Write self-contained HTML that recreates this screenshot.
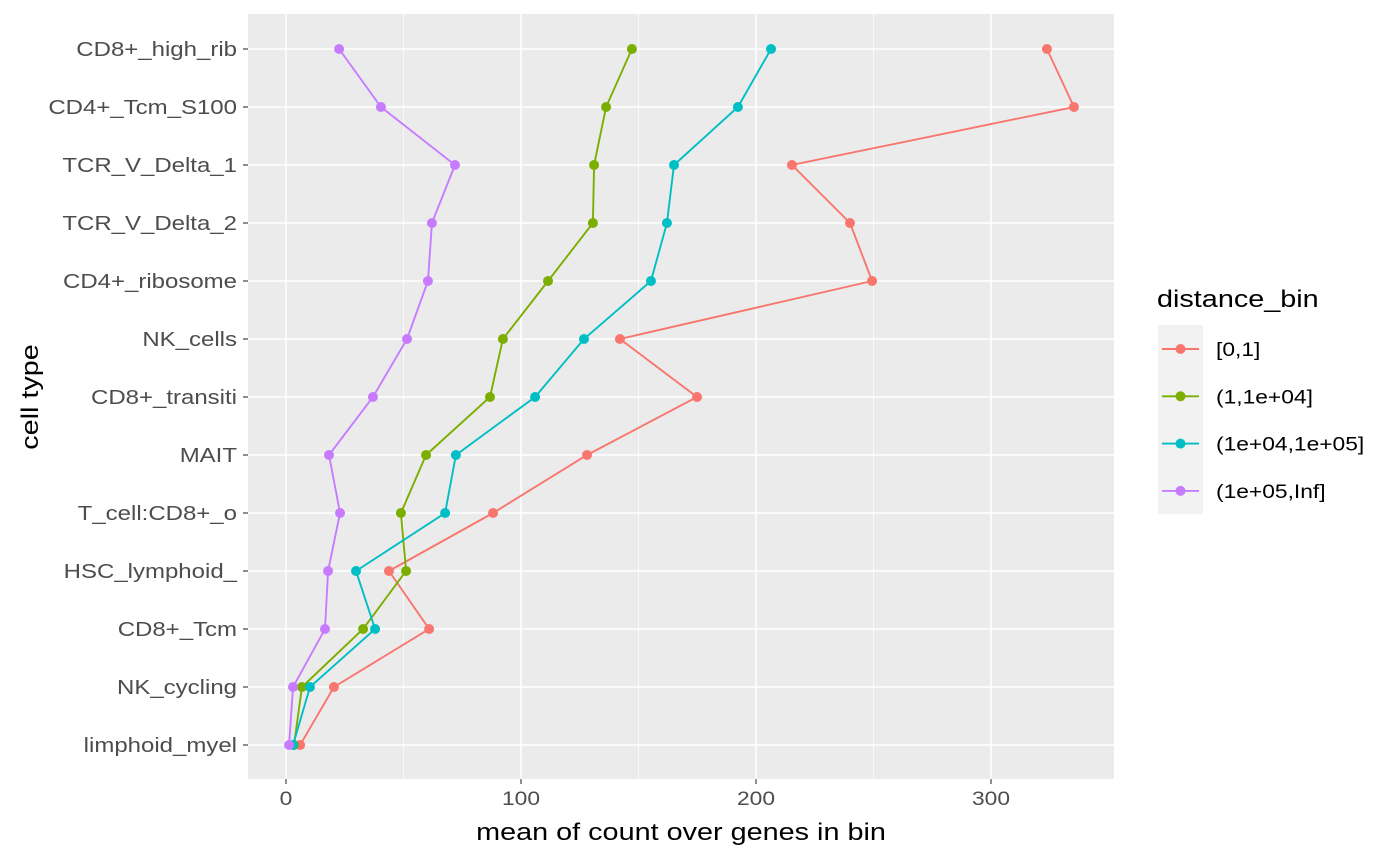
<!DOCTYPE html>
<html><head><meta charset="utf-8"><style>body{margin:0;background:#fff}svg{display:block;font-family:"Liberation Sans",sans-serif}</style></head>
<body>
<svg id="chart" width="1400" height="865"></svg>
<script>
const categories=["CD8+_high_rib","CD4+_Tcm_S100","TCR_V_Delta_1","TCR_V_Delta_2","CD4+_ribosome","NK_cells","CD8+_transiti","MAIT","T_cell:CD8+_o","HSC_lymphoid_","CD8+_Tcm","NK_cycling","limphoid_myel"];
const seriesNames=["[0,1]","(1,1e+04]","(1e+04,1e+05]","(1e+05,Inf]"];
const seriesColors=["#F8766D","#7CAE00","#00BFC4","#C77CFF"];
const redVals=[323.8,335.3,215.3,240,249.4,142.1,174.9,128.1,88.1,43.8,60.9,20.4,6];
const greenVals=[147.2,136.2,131.1,130.6,111.5,92.3,86.8,59.6,48.9,51.1,32.8,6.8,3.4];
const cyanVals=[206.4,192.3,165.1,162.1,155.3,126.8,106,72.3,67.7,29.8,37.9,10.2,3];
const purpleVals=[22.6,40.4,71.9,62.1,60.4,51.5,37,18.3,23,17.9,16.6,3,1.3];
const xTicks=[0,100,200,300];
const xMinor=[50,150,250];
const NS="http://www.w3.org/2000/svg";
const svg=document.getElementById("chart");
const P={l:248,r:1114,t:14,b:779};
const xs=v=>286+v*2.35;
const ys=i=>49+i*58;
function mk(t,a,p){const e=document.createElementNS(NS,t);for(const k in a)e.setAttribute(k,a[k]);(p||svg).appendChild(e);return e;}
function txt(x,y,s,size,anchor,fill,p,rot){const e=mk("text",{x:0,y:0,"text-anchor":anchor,"font-size":size,fill:fill,transform:"translate("+x+","+y+")"+(rot?" rotate(-90)":"")+" scale(1.2,1)"},p);e.textContent=s;return e;}
let e=mk("rect",{x:P.l,y:P.t,width:P.r-P.l,height:P.b-P.t,fill:"#EBEBEB"});


xMinor.forEach(v=>{mk("line",{x1:xs(v),x2:xs(v),y1:P.t,y2:P.b,stroke:"#fff","stroke-width":0.7});});
xTicks.forEach(v=>{mk("line",{x1:xs(v),x2:xs(v),y1:P.t,y2:P.b,stroke:"#fff","stroke-width":1.4});
 mk("line",{x1:xs(v),x2:xs(v),y1:P.b,y2:P.b+5,stroke:"#333","stroke-width":1.1});
 const t=txt(xs(v),P.b+26,String(v),19,"middle","#4D4D4D");
 
 });
categories.forEach((c,i)=>{mk("line",{x1:P.l,x2:P.r,y1:ys(i),y2:ys(i),stroke:"#fff","stroke-width":1.4});
 mk("line",{x1:P.l-5,x2:P.l,y1:ys(i),y2:ys(i),stroke:"#333","stroke-width":1.1});
 const t=txt(P.l-11,ys(i)+7,c,20,"end","#4D4D4D");
 
 });
const all=[redVals,greenVals,cyanVals,purpleVals];
all.forEach((vals,s)=>{
 const g=mk("g",{});
 
 
 mk("polyline",{points:vals.map((v,i)=>xs(v)+","+ys(i)).join(" "),fill:"none",stroke:seriesColors[s],"stroke-width":1.9},g);
 vals.forEach((v,i)=>{const c=mk("circle",{cx:xs(v),cy:ys(i),r:5,fill:seriesColors[s]},g);
  
  });
});
let t=txt(681,840,"mean of count over genes in bin",24,"middle","#000");


t=mk("text",{x:0,y:0,"text-anchor":"middle","font-size":24,fill:"#000",transform:"translate(38,397) rotate(-90) scale(1.2,1)"});t.textContent="cell type";


t=txt(1157,307,"distance_bin",24,"start","#000");


mk("rect",{x:1158,y:325,width:45,height:189,fill:"#F2F2F2"});
seriesNames.forEach((n,s)=>{const y=349+s*47.3;
 const g=mk("g",{});
 
 
 mk("line",{x1:1162,x2:1199,y1:y,y2:y,stroke:seriesColors[s],"stroke-width":1.9},g);
 mk("circle",{cx:1180.5,cy:y,r:5,fill:seriesColors[s]},g);
 txt(1216,y+7,n,19,"start","#000",g);});
</script>
</body></html>
